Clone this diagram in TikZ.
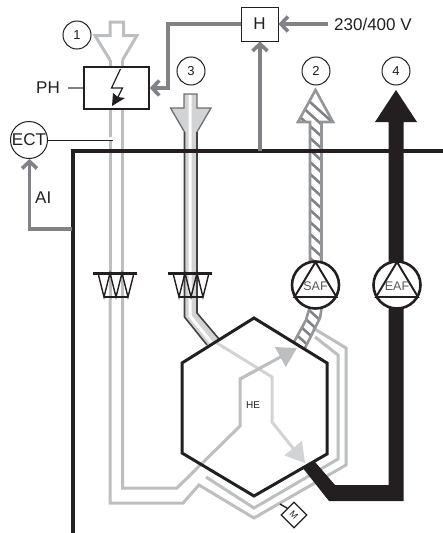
\documentclass[tikz,border=0pt]{standalone}
\usepackage{fontspec}
\setmainfont{Liberation Sans}
\usetikzlibrary{arrows.meta}
\definecolor{sig}{HTML}{808285}
\definecolor{duct}{HTML}{BCBEC0}
\definecolor{pale}{HTML}{D1D3D4}
\definecolor{ink}{HTML}{231F20}
\definecolor{hatchc}{HTML}{939598}
\tikzset{
 x=1pt,y=-1pt,
 signal/.style={draw=sig,line width=3.8pt,line join=miter},
 sigarrow/.style={signal,-{Straight Barb[length=7pt,width=15pt,line width=3.6pt]}},
 ductline/.style={draw=duct,line width=3pt,line join=miter},
 palearrow/.style={draw=pale,line width=3pt,-{Triangle[length=19pt,width=22pt]}},
 greyarrow/.style={draw=duct,line width=3pt,-{Triangle[length=19pt,width=22pt]}},
 wall/.style={draw=ink,line width=4pt},
 hexline/.style={draw=ink,line width=3pt,line join=miter},
 numc/.style={circle,draw=ink,line width=1pt,fill=white,minimum size=28pt,inner sep=0pt,font=\fontsize{13}{13}\selectfont,text=ink},
 lab/.style={inner sep=0pt,font=\fontsize{17}{17}\selectfont,text=ink},
 fan/.style={circle,draw=ink,line width=2.6pt,fill=white,minimum size=47pt,inner sep=0pt},
 fantext/.style={inner sep=0pt,font=\fontsize{12.5}{12.5}\selectfont,text=ink!75,yshift=-1.5pt},
 hatchline/.style={draw=sig,line width=2.6pt},
 filterpic/.pic={
  \draw[draw=ink,line width=1.4pt,line join=miter] (-17,0) -- (-11,24) -- (-5,0) -- (1,24) -- (7,0) -- (13,24) -- (19,0);
  \draw[draw=ink,line width=1.4pt] (-11,24) -- (13,24);
  \draw[draw=ink,line width=3pt] (-22,0) -- (22,0);
 }
}
\begin{document}
\begin{tikzpicture}
\useasboundingbox (0,0) rectangle (443,533);
% bypass / intake duct
\draw[ductline] (110,300) -- (110,503) -- (183,503) -- (199,485) -- (254,518) -- (346,465) -- (346,348) -- (313,328);
\draw[ductline] (122.5,300) -- (122.5,488) -- (177,488) -- (240,426) -- (240,379) -- (262,367);
\draw[ductline] (206,477) -- (254,508) -- (338,459) -- (338,355) -- (315,337);
\draw[ductline] (110,60) -- (110,300);
\draw[ductline] (122.5,60) -- (122.5,300);
\draw[ductline,line join=miter] (110,60) -- (95,35.5) -- (110,35.5) -- (110,22) -- (123.5,22) -- (123.5,35.5) -- (137,35.5) -- (122.5,60);
\draw[white,line width=3.2pt] (110,137) -- (110,141);
% extract duct 3
\path[fill=pale] (184,94) -- (197,94) -- (197,108) -- (211,108) -- (197,132) -- (197,313) -- (219,339) -- (207,345) -- (184.5,317) -- (184.5,132) -- (170.5,108) -- (184,108) -- cycle;
\draw[white,line width=3pt] (190,94) -- (190,316) -- (212,343);
\draw[draw=ink!65,line width=1.3pt,line join=miter] (184.5,132) -- (170.5,108) -- (184,108) -- (184,94) -- (197,94) -- (197,108) -- (211,108) -- (197,132);
\draw[draw=ink!85,line width=1.6pt,line join=miter] (184.5,132) -- (184.5,317) -- (207,345);
\draw[draw=ink!85,line width=1.6pt,line join=miter] (197,132) -- (197,313) -- (219,339);
% filters
\pic at (115,273) {filterpic};
\pic at (190,273) {filterpic};
% air paths in exchanger
\draw[palearrow] (217,343) -- (272,377) -- (272,422) -- (305,463);
\draw[greyarrow] (240,379) -- (297,348);
% supply duct 2
\begin{scope}
\clip (315.5,90) -- (333,122) -- (321.5,122) -- (321.5,262) -- (310,262) -- (310,122) -- (298,122) -- cycle;
\foreach \k in {0,...,16} {\draw[hatchline] (290,{84+\k*12}) -- (340,{129+\k*12});}
\end{scope}
\draw[draw=hatchc,line width=2.6pt,line join=miter] (310,262) -- (310,122) -- (298,122) -- (315.5,90) -- (333,122) -- (321.5,122) -- (321.5,262);
\begin{scope}
\clip (310,306) -- (322,306) -- (320,318) -- (305,348) -- (293,342) -- (306,320) -- cycle;
\foreach \k in {0,...,6} {\draw[hatchline] (280,{284+\k*12}) -- (340,{338+\k*12});}
\end{scope}
\draw[draw=hatchc,line width=2.6pt] (310,306) -- (306,320) -- (294,342);
\draw[draw=hatchc,line width=2.6pt] (322,306) -- (320,318) -- (305,348);
% exhaust duct 4
\path[fill=ink] (396,90) -- (417,122) -- (403.5,122) -- (403.5,501) -- (329,501) -- (302,467) -- (315,462) -- (335,485) -- (388.5,485) -- (388.5,122) -- (375,122) -- cycle;
% hexagon
\draw[hexline] (254,318) -- (327,363) -- (327,454) -- (254,496) -- (182,453) -- (182,363) -- cycle;
% walls
\coordinate (wallTop) at (73,151);
\coordinate (wallEnd) at (443,151);
\coordinate (wallBottom) at (73,533);
\draw[wall] (wallEnd) -- (wallTop) -- (wallBottom);
% nodes
\node[numc] (n1) at (77,35) {1};
\node[numc] (n3) at (191,71) {3};
\node[numc] (n2) at (316,71) {2};
\node[numc] (n4) at (396,71) {4};
\node[draw=ink,line width=1.6pt,fill=white,minimum width=65pt,minimum height=42pt,inner sep=0pt] (PH) at (116.5,88) {};
\node[lab,anchor=east] (PHl) at (60,88) {PH};
\node[draw=ink,line width=1pt,fill=white,minimum width=37pt,minimum height=34pt,inner sep=0pt,lab] (H) at (259.5,24) {H};
\node[lab,anchor=west] (V) at (334,24) {230/400 V};
\node[circle,draw=ink,line width=1pt,fill=white,minimum size=37pt,inner sep=0pt,lab] (ECT) at (29,140) {ECT};
\node[lab,anchor=west] (AI) at (35,198) {AI};
\node[inner sep=0pt,font=\fontsize{10}{10}\selectfont,text=ink] (HE) at (253,405) {HE};
\node[fan] (SAF) at (315.5,285) {};
\node[fan] (EAF) at (397,285) {};
% lightning
\draw[draw=ink,line width=1.2pt,line join=miter] (120.5,69) -- (111.5,88) -- (122.5,88) -- (118,97);
\path[fill=ink] (112,106) -- (113,93) -- (118,97) -- (125,98) -- cycle;
% fan symbols
\foreach \f in {SAF,EAF} {
 \draw[draw=ink,line width=1.9pt,line join=miter] ([shift={(0,-23)}]\f.center) -- ([shift={(-21,12)}]\f.center) -- ([shift={(21,12)}]\f.center) -- cycle;
}
\node[fantext] at (SAF.center) {SAF};
\node[fantext] at (EAF.center) {EAF};
% signals
\coordinate (hBend) at (168,24);
\coordinate (wallH) at (260,151);
\coordinate (wallAI) at (72,229);
\coordinate (aiBend) at (29.5,229);
\coordinate (vEnd) at (328,24);
\draw[sigarrow] (H.west) -- (hBend) |- (PH.east);
\draw[sigarrow] (vEnd) -- (H.east);
\draw[sigarrow] (wallH) -- (H.south -| wallH);
\draw[sigarrow] (wallAI) -- (aiBend) -- (ECT.south -| aiBend);
% leaders
\coordinate (ectEnd) at (113,139);
\draw[draw=ink,line width=1pt] (ECT.east) -- (ectEnd |- ECT.east);
\draw[draw=sig,line width=1.2pt] (PH.west) -- (68,88);
% actuator
\node[draw=ink,line width=1.2pt,fill=white,rotate=-45,minimum size=18pt,inner sep=0pt,font=\fontsize{9}{9}\selectfont,text=ink] (M) at (294,515) {M};
\coordinate (mTick) at (280,504);
\draw[draw=ink,line width=1.4pt] (M.west) -- (mTick);
\end{tikzpicture}
\end{document}
